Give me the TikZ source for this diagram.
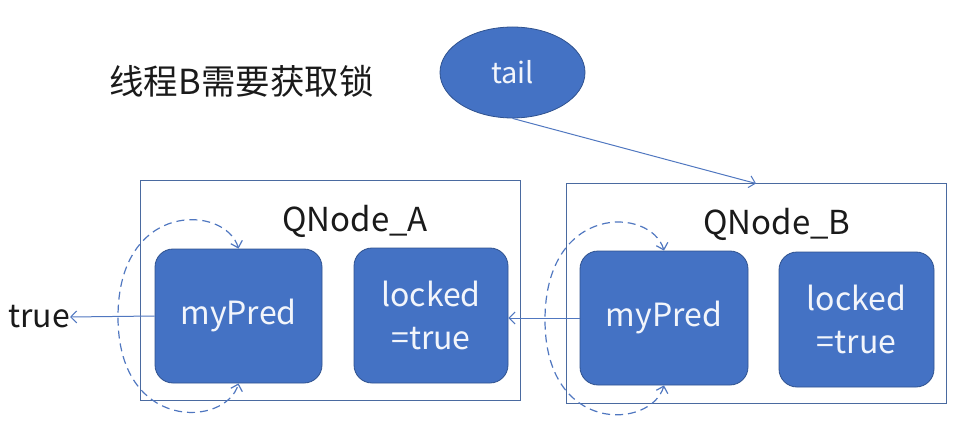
\documentclass[tikz,border=0pt]{standalone}
\usepackage{fontspec}
\setmainfont{Noto Sans CJK SC}
\usetikzlibrary{arrows.meta,shapes.geometric}
\definecolor{fillblue}{HTML}{4472C4}
\definecolor{edgeblue}{HTML}{2F528F}
\definecolor{frameblue}{HTML}{4A6AA0}
\definecolor{linkblue}{HTML}{5077C0}
\definecolor{textdark}{HTML}{1A1A1A}
\definecolor{textlight}{HTML}{F2F5FB}
\begin{document}
\begin{tikzpicture}[x=1pt,y=-1pt,
  field/.style={rounded corners=18pt, fill=fillblue, draw=edgeblue, line width=0.8pt,
    text=textlight, font=\fontsize{32}{43}\selectfont, align=center, inner sep=0pt},
  frame/.style={draw=frameblue, line width=1pt, inner sep=0pt},
  link/.style={draw=linkblue, line width=1pt, -{Straight Barb[length=6pt,width=12pt]}},
  loopline/.style={draw=linkblue, line width=1.2pt, dash pattern=on 8pt off 5pt,
    {Straight Barb[length=6pt,width=12pt]}-{Straight Barb[length=6pt,width=12pt]}},
  label/.style={text=textdark, inner sep=0pt}
]
\useasboundingbox (0,0) rectangle (976,446);

% title
\node[label, font=\fontsize{34.5}{38}\selectfont] (title) at (241.5,81) {线程B需要获取锁};

% tail
\node[ellipse, fill=fillblue, draw=edgeblue, line width=0.8pt, minimum width=145pt,
  minimum height=91pt, inner sep=0pt, text=textlight, font=\fontsize{29}{32}\selectfont]
  (tail) at (512.5,72.5) {tail};

% frames
\node[frame, minimum width=380pt, minimum height=219pt] (frameA) at (330,290.5) {};
\node[frame, minimum width=380pt, minimum height=219pt] (frameB) at (756,293.5) {};

\node[label, font=\fontsize{33}{36}\selectfont] (labA) at (355,221) {QNode\_A};
\node[label, font=\fontsize{33}{36}\selectfont] (labB) at (777,224) {QNode\_B};

% fields
\node[field, minimum width=167pt, minimum height=134pt] (predA) at (238.5,316) {myPred};
\node[field, minimum width=154pt, minimum height=135pt] (lockA) at (431,315.5) {locked\\=true};
\node[field, minimum width=168pt, minimum height=134pt] (predB) at (664,318) {myPred};
\node[field, minimum width=155pt, minimum height=135pt] (lockB) at (856.5,319.5) {locked\\=true};

% true
\node[label, font=\fontsize{32}{35}\selectfont, anchor=west] (truetxt) at (8,317) {true};

% connectors
\draw[link] (tail.south) -- (frameB.north);
\draw[link] (predA.west) -- (truetxt.east);
\draw[link] (predB.west) -- (lockA.east |- predB.west);

\coordinate (leftA) at (118,317);
\coordinate (leftB) at (545,320);
\draw[loopline] (predA.north) .. controls +(-13,-44) and +(0,-117) .. (leftA)
  .. controls +(0,115) and +(-13,44) .. (predA.south);
\draw[loopline] (predB.north) .. controls +(-13,-44) and +(0,-117) .. (leftB)
  .. controls +(0,115) and +(-13,44) .. (predB.south);
\end{tikzpicture}
\end{document}
